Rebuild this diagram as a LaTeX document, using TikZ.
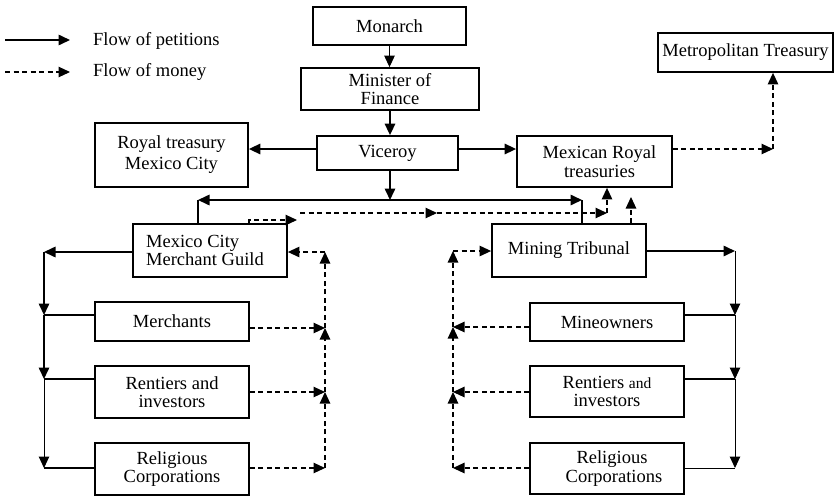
\documentclass[tikz,border=0pt]{standalone}
\usepackage{fontspec}
\setmainfont{Liberation Serif}
\usetikzlibrary{arrows.meta}
\newcommand\dfont{\fontsize{18.5}{18.5}\selectfont}
\begin{document}
\begin{tikzpicture}[x=1pt,y=-1pt,
  box/.style={draw, line width=1.8pt, inner sep=0pt, align=center, font=\dfont},
  lbl/.style={inner sep=0pt, font=\dfont, anchor=west},
  tip/.style={-{Triangle[length=11.5pt,width=10.5pt]}},
  pet/.style={tip, line width=1.6pt},
  petthin/.style={tip, line width=1pt},
  petline/.style={line width=1.6pt},
  thinline/.style={line width=1pt},
  mon/.style={tip, line width=1.1pt, dash pattern=on 5pt off 3.5pt},
]
\useasboundingbox (0,0) rectangle (839,496);

% legend
\coordinate (lp0) at (5,40);  \coordinate (lp1) at (70,40);
\coordinate (lm0) at (5,72);  \coordinate (lm1) at (70,72);
\draw[pet] (lp0) -- (lp1);
\draw[mon] (lm0) -- (lm1);
\node[lbl] (lpt) at (93,41) {Flow of petitions};
\node[lbl] (lmt) at (93,72) {Flow of money};

% central chain
\node[box, minimum width=153pt, minimum height=38pt] (monarch) at (389.5,26) {Monarch};
\node[box, minimum width=178pt, minimum height=42pt] (minister) at (390,89) {Minister of\\Finance};
\node[box, minimum width=141pt, minimum height=34pt] (viceroy) at (387.5,153) {Viceroy};
\node[box, minimum width=153pt, minimum height=64pt] (rtmc) at (171.5,155) {Royal treasury\\[2.5pt]Mexico City};
\node[box, minimum width=155pt, minimum height=51pt] (mrt) at (594.5,161.5) {\hspace*{10pt}Mexican Royal\\\hspace*{10pt}treasuries};
\node[box, minimum width=175pt, minimum height=39pt] (metro) at (745.5,52.5) {Metropolitan Treasury};

% corporate bodies
\node[box, minimum width=154pt, minimum height=53pt, align=left] (guild) at (210,250.5) {Mexico City\\Merchant Guild\hspace*{10pt}};
\node[box, minimum width=154pt, minimum height=53pt] (mining) at (569,250.5) {Mining Tribunal};

% left column
\node[box, minimum width=154pt, minimum height=39pt] (merch) at (172,321.5) {Merchants};
\node[box, minimum width=154pt, minimum height=52pt] (rentL) at (172,392) {Rentiers and\\investors};
\node[box, minimum width=154pt, minimum height=52pt] (relL) at (172,469) {Religious\\Corporations};

% right column
\node[box, minimum width=154pt, minimum height=38pt] (mine) at (607,322) {Mineowners};
\node[box, minimum width=154pt, minimum height=51pt] (rentR) at (607,391.5) {Rentiers {\fontsize{15.5}{18.5}\selectfont and}\\investors};
\node[box, minimum width=154pt, minimum height=51pt] (relR) at (607,468.5) {\hspace*{10pt}Religious\\\hspace*{14pt}Corporations};

% petitions down the chain
\draw[petthin] (monarch.south) -- (monarch.south |- minister.north);
\draw[pet] (minister.south) -- (minister.south |- viceroy.north);
\draw[pet] (viceroy.west |- 0,149) -- (rtmc.east |- 0,149);
\draw[pet] (viceroy.east |- 0,149) -- (mrt.west |- 0,149);

% bar below the viceroy
\coordinate (vb) at (390,200);
\coordinate (bl) at (198,200);
\coordinate (br) at (582,200);
\draw[pet] (viceroy.south -| vb) -- (vb);
\draw[pet] (vb) -- (bl);
\draw[petline] (bl) -- (bl |- guild.north);
\draw[pet] (vb) -- (br);
\draw[petline] (br) -- (br |- mining.north);

% money to the treasuries
\coordinate (mc) at (773,149);
\draw[mon] (mrt.east |- mc) -- (mc);
\draw[mon] (mc) -- (mc |- metro.south);
\coordinate (d1) at (249,220);
\coordinate (d2) at (297,220);
\coordinate (d3) at (300,213);
\coordinate (d4) at (437,213);
\coordinate (d5) at (607,213);
\coordinate (d6) at (631,197);
\draw[mon] (d1 |- guild.north) -- (d1) -- (d2);
\draw[mon] (d3) -- (d4);
\draw[mon] (d4) -- (d5);
\draw[mon] (d5) -- (d5 |- mrt.south);
\draw[mon] (d6 |- mining.north) -- (d6);

% merchant guild petitions
\coordinate (L0) at (44,252);
\coordinate (L1) at (44,315);
\coordinate (L2) at (44,379);
\coordinate (L3) at (44,468);
\draw[pet] (guild.west |- L0) -- (L0);
\draw[pet] (L0) -- (L1);
\draw[pet] (L1) -- (L2);
\draw[petthin] (L2) -- (L3);
\draw[petline] (L1) -- (merch.west |- L1);
\draw[petline] (L2) -- (rentL.west |- L2);
\draw[petline] (L3) -- (relL.west |- L3);

% merchant guild money
\coordinate (M0) at (325,252);
\coordinate (M1) at (325,328);
\coordinate (M2) at (325,392);
\coordinate (M3) at (325,468);
\draw[mon] (merch.east |- M1) -- (M1);
\draw[mon] (rentL.east |- M2) -- (M2);
\draw[mon] (relL.east |- M3) -- (M3);
\draw[mon] (M3) -- (M2);
\draw[mon] (M2) -- (M1);
\draw[mon] (M1) -- (M0);
\draw[mon] (M0) -- (guild.east |- M0);

% mining tribunal petitions
\coordinate (R0) at (735,251);
\coordinate (R1) at (735,315);
\coordinate (R2) at (735,379);
\coordinate (R3) at (735,468);
\draw[pet] (mining.east |- R0) -- (R0);
\draw[petthin] (R0) -- (R1);
\draw[petthin] (R1) -- (R2);
\draw[petthin] (R2) -- (R3);
\draw[petline] (mine.east |- R1) -- (R1);
\draw[petline] (rentR.east |- R2) -- (R2);
\draw[thinline] (relR.east |- R3) -- (R3);

% mining tribunal money
\coordinate (N0) at (453,251);
\coordinate (N1) at (453,327);
\coordinate (N2) at (453,392);
\coordinate (N3) at (453,468);
\draw[mon] (mine.west |- N1) -- (N1);
\draw[mon] (rentR.west |- N2) -- (N2);
\draw[mon] (relR.west |- N3) -- (N3);
\draw[mon] (N3) -- (N2);
\draw[mon] (N2) -- (N1);
\draw[mon] (N1) -- (N0);
\draw[mon] (N0) -- (mining.west |- N0);
\end{tikzpicture}
\end{document}
